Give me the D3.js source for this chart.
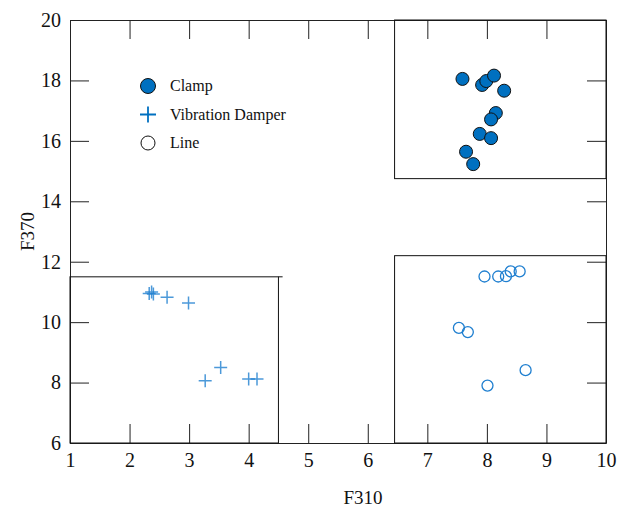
<!DOCTYPE html>
<html>
<head>
<meta charset="utf-8">
<script src="https://cdn.jsdelivr.net/npm/d3@7"></script>
<style>
  body { margin: 0; background: #fff; }
  svg text { font-family: "Liberation Serif", "Times New Roman", serif !important; }
</style>
</head>
<body>
<div id="chart"></div>
<script>
const clampX = [7.59, 7.92, 7.99, 8.12, 8.29, 8.15, 8.07, 7.88, 8.07, 7.65, 7.77];
const clampY = [18.05, 17.85, 17.98, 18.16, 17.66, 16.92, 16.71, 16.23, 16.09, 15.64, 15.23];

const damperX = [2.33, 2.37, 2.40, 2.63, 2.99, 3.27, 3.53, 4.0, 4.14];
const damperY = [10.95, 11.0, 10.93, 10.82, 10.63, 8.06, 8.50, 8.12, 8.12];

const lineX = [7.96, 8.19, 8.32, 8.40, 8.55, 7.53, 7.68, 8.65, 8.01];
const lineY = [11.51, 11.51, 11.52, 11.68, 11.68, 9.81, 9.67, 8.41, 7.90];

const xTicks = [1, 2, 3, 4, 5, 6, 7, 8, 9, 10];
const yTicks = [6, 8, 10, 12, 14, 16, 18, 20];

// group boxes: [x0, x1, y0, y1]
const clampBox = [6.45, 10, 14.75, 20];
const lineBox = [6.45, 10, 6, 12.2];
const damperBox = [1, 4.5, 6, 11.5];

const legendItems = ["Clamp", "Vibration Damper", "Line"];

const blue = "#0070c0";
const lightBlue = "#1f7fd0";

const margin = { top: 20, right: 14, bottom: 68, left: 70 };
const width = 620 - margin.left - margin.right;
const height = 511 - margin.top - margin.bottom;

const svg = d3.select("#chart")
  .append("svg")
  .attr("width", 620)
  .attr("height", 511)
  .append("g")
  .attr("transform", `translate(${margin.left}, ${margin.top})`);

const x = d3.scaleLinear().domain([1, 10]).range([0, width]);
const y = d3.scaleLinear().domain([6, 20]).range([height, 0]);

const styleAxis = (g) => {
  g.attr("font-family", "'Liberation Serif', serif").attr("font-size", 20);
  g.selectAll("path, line").attr("stroke", "#222");
  g.selectAll("text").attr("fill", "#111");
};

svg.append("g")
  .attr("transform", `translate(0, ${height})`)
  .call(d3.axisBottom(x).tickValues(xTicks).tickSizeInner(-19).tickSizeOuter(0).tickPadding(10))
  .call(styleAxis);
svg.append("g")
  .call(d3.axisTop(x).tickValues(xTicks).tickSizeInner(-19).tickSizeOuter(0).tickFormat(""))
  .call(styleAxis);
svg.append("g")
  .call(d3.axisLeft(y).tickValues(yTicks).tickSizeInner(-19).tickSizeOuter(0).tickPadding(9))
  .call(styleAxis);
svg.append("g")
  .attr("transform", `translate(${width}, 0)`)
  .call(d3.axisRight(y).tickValues(yTicks).tickSizeInner(-19).tickSizeOuter(0).tickFormat(""))
  .call(styleAxis);

// group boxes
const drawBox = (b) => {
  svg.append("rect")
    .attr("x", x(b[0]))
    .attr("y", y(b[3]))
    .attr("width", x(b[1]) - x(b[0]))
    .attr("height", y(b[2]) - y(b[3]))
    .attr("fill", "none")
    .attr("stroke", "#111")
    .attr("stroke-width", 1);
};
drawBox(clampBox);
drawBox(lineBox);
drawBox(damperBox);
// damper box top runs a little past its right edge
svg.append("line")
  .attr("x1", x(damperBox[1])).attr("x2", x(4.57))
  .attr("y1", y(damperBox[3])).attr("y2", y(damperBox[3]))
  .attr("stroke", "#111");

// vibration damper crosses
const cross = (sel, s) => sel
  .attr("d", `M${-s},0H${s}M0,${-s}V${s}`)
  .attr("stroke", lightBlue)
  .attr("stroke-width", 1.5)
  .attr("fill", "none");

svg.selectAll(".damper")
  .data(damperX.map((d, i) => [d, damperY[i]]))
  .enter().append("path")
  .attr("class", "damper")
  .attr("transform", (d) => `translate(${x(d[0])}, ${y(d[1])})`)
  .call(cross, 6.5)
  .attr("stroke-opacity", 0.8);

// line circles
svg.selectAll(".line")
  .data(lineX.map((d, i) => [d, lineY[i]]))
  .enter().append("circle")
  .attr("class", "line")
  .attr("cx", (d) => x(d[0]))
  .attr("cy", (d) => y(d[1]))
  .attr("r", 5.5)
  .attr("fill", "none")
  .attr("stroke", lightBlue)
  .attr("stroke-width", 1.3);

// clamp circles
svg.selectAll(".clamp")
  .data(clampX.map((d, i) => [d, clampY[i]]))
  .enter().append("circle")
  .attr("class", "clamp")
  .attr("cx", (d) => x(d[0]))
  .attr("cy", (d) => y(d[1]))
  .attr("r", 6.5)
  .attr("fill", blue)
  .attr("stroke", "#111")
  .attr("stroke-width", 1);

// legend
const legend = svg.append("g").attr("transform", "translate(78, 66)");
legendItems.forEach((name, i) => {
  const g = legend.append("g").attr("transform", `translate(0, ${i * 28.5})`);
  if (i === 0) {
    g.append("circle").attr("r", 7.5).attr("fill", blue).attr("stroke", "#111");
  } else if (i === 1) {
    g.append("path").call(cross, 8).attr("stroke", blue).attr("stroke-width", 1.8);
  } else {
    g.append("circle").attr("r", 7).attr("fill", "none").attr("stroke", "#111");
  }
  g.append("text")
    .attr("x", 22)
    .attr("y", 5)
    .attr("font-size", 16)
    .attr("fill", "#111")
    .text(name);
});

// axis titles
svg.append("text")
  .attr("x", x(5.92))
  .attr("y", height + 61)
  .attr("text-anchor", "middle")
  .attr("font-size", 19)
  .attr("fill", "#111")
  .text("F310");
svg.append("text")
  .attr("transform", `translate(-36, ${height / 2}) rotate(-90)`)
  .attr("text-anchor", "middle")
  .attr("font-size", 19)
  .attr("fill", "#111")
  .text("F370");
</script>
</body>
</html>
